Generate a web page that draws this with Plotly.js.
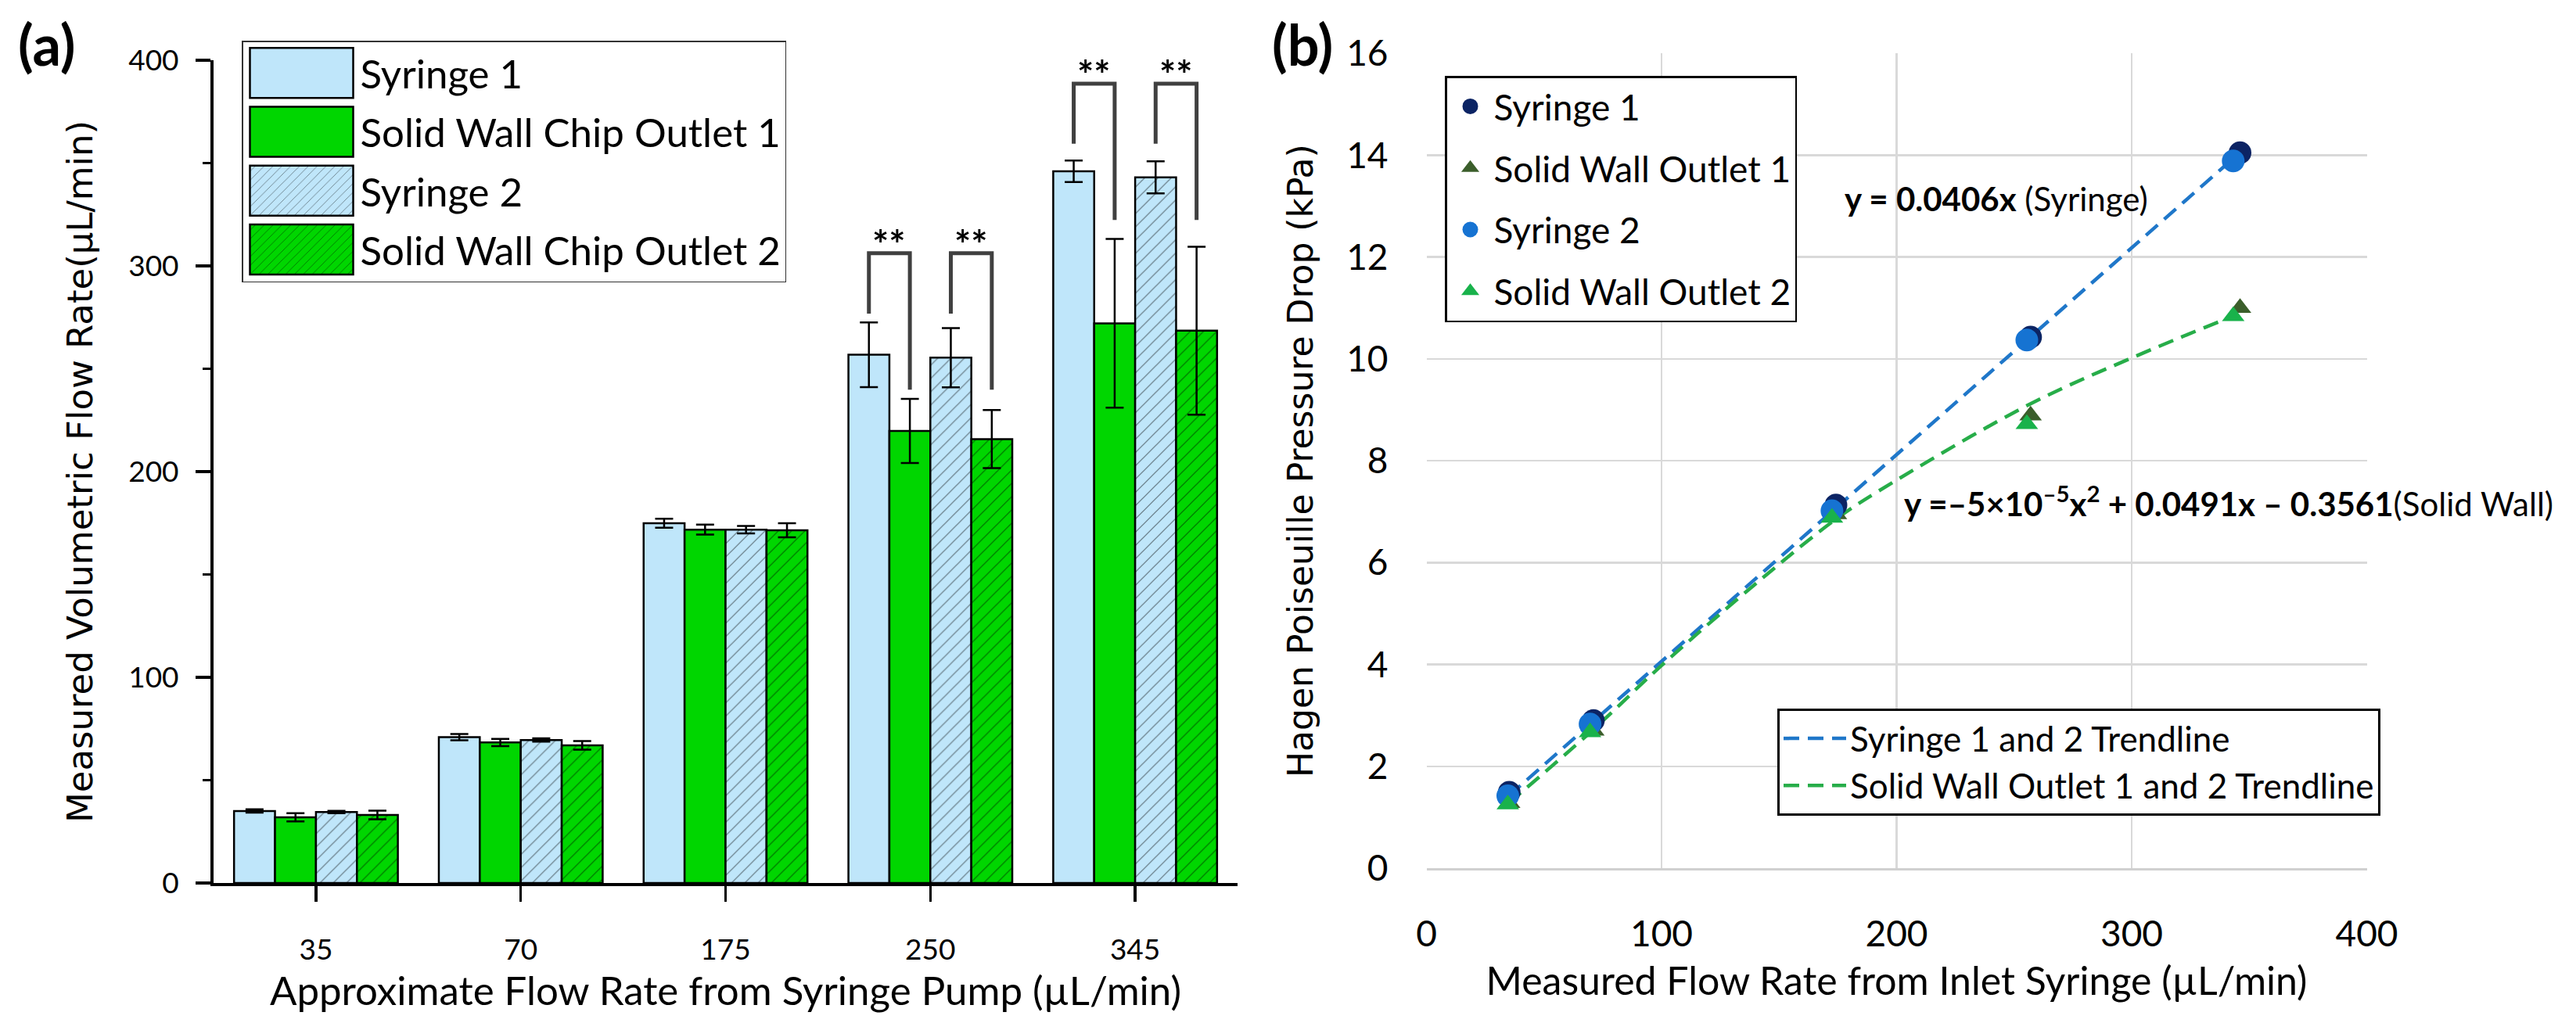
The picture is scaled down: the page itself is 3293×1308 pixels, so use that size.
<!DOCTYPE html>
<html><head><meta charset="utf-8">
<script src="https://cdn.plot.ly/plotly-3.0.1.min.js"></script>
<style>html,body{margin:0;padding:0;background:#fff;}#chart{width:3293px;height:1308px;}</style>
</head><body><div id="chart"></div>
<script>
// ---------- Panel (a) data ----------
const categories = ['35', '70', '175', '250', '345'];
const syringe1 = [35.0, 70.9, 174.9, 256.8, 346.0];
const syringe1Err = [0.8, 1.5, 2.2, 15.7, 5.2];
const outlet1 = [31.9, 68.3, 171.8, 219.8, 272.1];
const outlet1Err = [2.0, 1.8, 2.4, 15.6, 41.0];
const syringe2 = [34.5, 69.5, 171.8, 255.4, 343.1];
const syringe2Err = [0.6, 0.8, 1.8, 14.4, 7.8];
const outlet2 = [33.1, 66.9, 171.5, 215.8, 268.5];
const outlet2Err = [2.1, 2.1, 3.4, 14.1, 40.8];
const barNames = ['Syringe 1', 'Solid Wall Chip Outlet 1', 'Syringe 2', 'Solid Wall Chip Outlet 2'];
// significance brackets (category index, heights in µL/min)
const bracketCat = [3, 3, 4, 4];
const bracketPair = [0, 1, 0, 1]; // 0: Syringe1 vs Outlet1, 1: Syringe2 vs Outlet2
const bracketTop = [306.2, 306.2, 388.6, 388.6];
const bracketLeftEnd = [276.8, 276.8, 359.4, 359.4];
const bracketRightEnd = [239.8, 239.8, 322.3, 322.3];
const starY = [314.4, 314.4, 397.0, 397.0];
const starText = ['**', '**', '**', '**'];

// ---------- Panel (b) data ----------
const syr1X = [35.2, 71.0, 174.2, 257.0, 346.1];
const syr1Y = [1.49, 2.90, 7.13, 10.43, 14.05];
const syr2X = [34.6, 69.6, 172.5, 255.4, 343.2];
const syr2Y = [1.42, 2.83, 7.02, 10.37, 13.89];
const sw1Y = [1.28, 2.70, 6.95, 8.89, 11.00];
const sw2Y = [1.25, 2.67, 6.88, 8.72, 10.84];
const syrTrendX = [35, 346];
const syrTrendY = [1.42, 14.05];
const swTrendX = [35, 70, 100, 142, 175, 200, 257, 300, 343];
const swTrendY = [1.28, 2.68, 3.98, 5.66, 6.88, 7.62, 9.12, 10.02, 10.84];
const scatterNames = ['Syringe 1', 'Solid Wall Outlet 1', 'Syringe 2', 'Solid Wall Outlet 2'];
const trendNames = ['Syringe 1 and 2 Trendline', 'Solid Wall Outlet 1 and 2 Trendline'];

// ---------- geometry helpers ----------
const W = 3293, H = 1308;
const px = x => x / W;
const py = y => 1 - y / H;

const LB = '#bfe6fa', GR = '#00d600';
const CAL = 'Lato, "Open Sans", sans-serif';
const VER = '"DejaVu Sans", Verdana, sans-serif';

function barTrace(name, y, err, color, hatched, group) {
  return {
    type: 'bar', name: name, x: categories, y: y, xaxis: 'x', yaxis: 'y',
    legend: 'legend', legendgroup: group,
    marker: {
      color: color,
      line: {color: '#000', width: 2.5},
      pattern: hatched ? {shape: '/', fillmode: 'overlay', bgcolor: color, fgcolor: '#000', size: 12, solidity: 0.1} : {shape: ''}
    },
    error_y: {type: 'data', array: err, visible: true, color: '#000', thickness: 2.5, width: 11.5}
  };
}

const traces = [
  barTrace(barNames[0], syringe1, syringe1Err, LB, false, 'a1'),
  barTrace(barNames[1], outlet1, outlet1Err, GR, false, 'a2'),
  barTrace(barNames[2], syringe2, syringe2Err, LB, true, 'a3'),
  barTrace(barNames[3], outlet2, outlet2Err, GR, true, 'a4'),
  {type: 'scatter', mode: 'lines', name: trendNames[0], x: syrTrendX, y: syrTrendY, xaxis: 'x2', yaxis: 'y2',
   legend: 'legend3', legendgroup: 't1', line: {color: '#1f77c9', width: 4.5, dash: '20px,11px'}},
  {type: 'scatter', mode: 'lines', name: trendNames[1], x: swTrendX, y: swTrendY, xaxis: 'x2', yaxis: 'y2',
   legend: 'legend3', legendgroup: 't2', line: {color: '#27ad49', width: 4.5, dash: '20px,11px', shape: 'spline'}},
  {type: 'scatter', mode: 'markers', name: scatterNames[0], x: syr1X, y: syr1Y, xaxis: 'x2', yaxis: 'y2',
   legend: 'legend2', legendgroup: 'b1', marker: {color: '#0c2464', size: 29, symbol: 'circle'}},
  {type: 'scatter', mode: 'markers', name: scatterNames[1], x: syr1X, y: sw1Y, xaxis: 'x2', yaxis: 'y2',
   legend: 'legend2', legendgroup: 'b2', marker: {color: '#3b5e2b', size: 25, symbol: 'triangle-up'}},
  {type: 'scatter', mode: 'markers', name: scatterNames[2], x: syr2X, y: syr2Y, xaxis: 'x2', yaxis: 'y2',
   legend: 'legend2', legendgroup: 'b3', marker: {color: '#1673d2', size: 29, symbol: 'circle'}},
  {type: 'scatter', mode: 'markers', name: scatterNames[3], x: syr2X, y: sw2Y, xaxis: 'x2', yaxis: 'y2',
   legend: 'legend2', legendgroup: 'b4', marker: {color: '#19b24b', size: 25, symbol: 'triangle-up'}}
];

// brackets and stars
const shapes = [];
const annotations = [];
const barOffsets = [-0.3, -0.1, 0.1, 0.3];
for (let i = 0; i < bracketCat.length; i++) {
  const xl = bracketCat[i] + barOffsets[bracketPair[i] * 2];
  const xr = bracketCat[i] + barOffsets[bracketPair[i] * 2 + 1];
  shapes.push({type: 'path', xref: 'x', yref: 'y',
    path: `M${xl},${bracketLeftEnd[i]} L${xl},${bracketTop[i]} L${xr},${bracketTop[i]} L${xr},${bracketRightEnd[i]}`,
    line: {color: '#404040', width: 5}});
  annotations.push({xref: 'x', yref: 'y', x: (xl + xr) / 2, y: starY[i], text: '<b>' + starText[i] + '</b>',
    showarrow: false, xanchor: 'center', yanchor: 'middle', yshift: -10,
    font: {family: CAL, size: 50, color: '#000'}});
}
annotations.push({xref: 'paper', yref: 'paper', x: px(59), y: py(56), text: '<b>(a)</b>', showarrow: false,
  xanchor: 'center', yanchor: 'middle', font: {family: CAL, size: 72, color: '#000'}});
annotations.push({xref: 'paper', yref: 'paper', x: px(1665), y: py(56), text: '<b>(b)</b>', showarrow: false,
  xanchor: 'center', yanchor: 'middle', font: {family: CAL, size: 72, color: '#000'}});
annotations.push({xref: 'x2', yref: 'y2', x: 177.2, y: 13.15, xanchor: 'left', yanchor: 'middle', showarrow: false,
  text: '<b>y = 0.0406x</b> (Syringe)', font: {family: CAL, size: 42, color: '#000'}});
annotations.push({xref: 'x2', yref: 'y2', x: 202.5, y: 7.2, xanchor: 'left', yanchor: 'middle', showarrow: false,
  text: '<b>y =–5×10<sup>–5</sup>x<sup>2</sup> + 0.0491x – 0.3561</b>(Solid Wall)', font: {family: CAL, size: 42, color: '#000'}});

const layout = {
  width: W, height: H, margin: {l: 0, r: 0, t: 0, b: 0}, paper_bgcolor: '#fff', plot_bgcolor: 'rgba(0,0,0,0)',
  barmode: 'group', bargap: 0.2, bargroupgap: 0, showlegend: true,
  font: {family: CAL, color: '#000'},
  xaxis: {domain: [px(273), px(1582)], type: 'category', range: [-0.5, 4.5], anchor: 'y',
    showline: true, linecolor: '#000', linewidth: 4, ticks: 'outside', ticklen: 20, tickwidth: 3.5, tickcolor: '#000',
    showgrid: false, zeroline: false, tickfont: {family: CAL, size: 37, color: '#000'}, ticklabelstandoff: 30,
    title: {text: 'Approximate Flow Rate from Syringe Pump (µL/min)', font: {family: CAL, size: 51, color: '#000'}, standoff: 16}},
  yaxis: {domain: [py(1129), py(77)], range: [0, 400], dtick: 100, anchor: 'x',
    showline: true, linecolor: '#000', linewidth: 4, ticks: 'outside', ticklen: 19, tickwidth: 3.5, tickcolor: '#000',
    minor: {dtick: 50, ticks: 'outside', ticklen: 10, tickwidth: 3.5, tickcolor: '#000', showgrid: false},
    showgrid: false, zeroline: false, tickfont: {family: CAL, size: 37, color: '#000'}, ticklabelstandoff: 14,
    title: {text: 'Measured Volumetric Flow Rate(µL/min)', font: {family: VER, size: 45, color: '#000'}, standoff: 32}},
  xaxis2: {domain: [px(1823.5), px(3025.5)], range: [0, 400], dtick: 100, anchor: 'y2',
    showline: true, linecolor: '#d0d0d0', linewidth: 3, ticks: '', showgrid: true, gridcolor: '#d9d9d9', gridwidth: 2.5,
    zeroline: false, tickfont: {family: CAL, size: 46, color: '#000'}, ticklabelstandoff: 42,
    title: {text: 'Measured Flow Rate from Inlet Syringe (µL/min)', font: {family: CAL, size: 50, color: '#000'}, standoff: 18}},
  yaxis2: {domain: [py(1110), py(68.3)], range: [0, 16], dtick: 2, anchor: 'x2',
    showline: false, ticks: '', showgrid: true, gridcolor: '#d9d9d9', gridwidth: 2.5, zeroline: false,
    tickfont: {family: CAL, size: 46, color: '#000'}, ticklabelstandoff: 48,
    title: {text: 'Hagen Poiseuille Pressure Drop (kPa)', font: {family: VER, size: 44, color: '#000'}, standoff: 28}},
  legend: {x: px(309), y: py(52), xanchor: 'left', yanchor: 'top', bgcolor: '#fff', bordercolor: '#333', borderwidth: 1.5,
    font: {family: CAL, size: 51, color: '#000'}, itemwidth: 140, tracegroupgap: 6, traceorder: 'grouped'},
  legend2: {x: px(1847), y: py(97), xanchor: 'left', yanchor: 'top', bgcolor: '#fff', bordercolor: '#000', borderwidth: 2.5,
    font: {family: CAL, size: 46, color: '#000'}, itemwidth: 50, tracegroupgap: 16, traceorder: 'grouped'},
  legend3: {x: px(2272), y: py(906), xanchor: 'left', yanchor: 'top', bgcolor: '#fff', bordercolor: '#000', borderwidth: 3,
    font: {family: CAL, size: 44, color: '#000'}, itemwidth: 80, tracegroupgap: 0, traceorder: 'grouped'},
  shapes: shapes, annotations: annotations
};

Plotly.newPlot('chart', traces, layout, {displayModeBar: false, staticPlot: true}).then(function (gd) {
  // enlarge bar swatches in the panel (a) legend
  gd.querySelectorAll('g.legend g.legendpoints path').forEach(function (p) {
    p.setAttribute('d', 'M66,32H-66V-32H66Z');
  });
  // slightly larger marker symbols in the panel (b) marker legend
  gd.querySelectorAll('g.legend2 g.legendpoints path.scatterpts').forEach(function (p) {
    const t = p.getAttribute('transform') || '';
    p.setAttribute('transform', t + ' scale(1.25)');
  });
});
</script></body></html>
